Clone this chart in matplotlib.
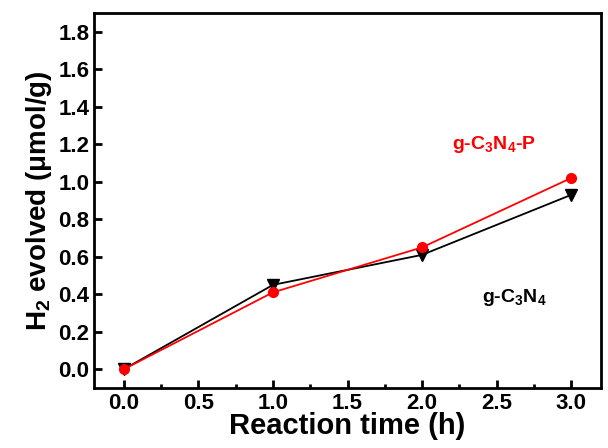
import matplotlib
matplotlib.use("Agg")
import matplotlib.pyplot as plt
import matplotlib.ticker as mticker

plt.rcParams['font.family'] = ['Liberation Sans', 'DejaVu Sans']
plt.rcParams['font.weight'] = 'bold'
plt.rcParams['mathtext.fontset'] = 'custom'
plt.rcParams['mathtext.rm'] = 'Liberation Sans:bold'
plt.rcParams['mathtext.it'] = 'Liberation Sans:bold'
plt.rcParams['mathtext.bf'] = 'Liberation Sans:bold'
plt.rcParams['mathtext.default'] = 'rm'

time_h = [0.0, 1.0, 2.0, 3.0]
h2_cn = [0.0, 0.45, 0.61, 0.93]
h2_cn_p = [0.0, 0.41, 0.65, 1.02]

fig = plt.figure(figsize=(6.08, 4.48), dpi=100)
ax = fig.add_axes([94 / 608, 1 - 388 / 448, (601 - 94) / 608, (388 - 13) / 448])

ax.plot(time_h, h2_cn, color="black", marker="v", markersize=8, linewidth=1.3)
ax.plot(time_h, h2_cn_p, color="red", marker="o", markersize=7, linewidth=1.3)

ax.text(2.48, 1.2, "g-C$_3$N$_4$-P", color="red", fontsize=14, fontweight="bold", ha="center", va="center")
ax.text(2.62, 0.385, "g-C$_3$N$_4$", color="black", fontsize=14, fontweight="bold", ha="center", va="center")

ax.set_xlim(-0.2, 3.2)
ax.set_ylim(-0.1, 1.9)
ax.set_xticks([0, 0.5, 1.0, 1.5, 2.0, 2.5, 3.0])
ax.xaxis.set_minor_locator(mticker.MultipleLocator(0.25))
ax.set_yticks([0.0, 0.2, 0.4, 0.6, 0.8, 1.0, 1.2, 1.4, 1.6, 1.8])
ax.xaxis.set_major_formatter(mticker.FormatStrFormatter('%.1f'))
ax.yaxis.set_major_formatter(mticker.FormatStrFormatter('%.1f'))

ax.tick_params(axis='both', which='major', direction='in', length=6, width=2, labelsize=16)
ax.tick_params(axis='x', which='minor', direction='in', length=3, width=2)
for s in ax.spines.values():
    s.set_linewidth(2)

ax.set_xlabel("Reaction time (h)", fontsize=21, fontweight="bold", labelpad=-1)
ax.set_ylabel("H$_2$ evolved (μmol/g)", fontsize=20, fontweight="bold", labelpad=3)

plt.savefig("out.png", dpi=100)
